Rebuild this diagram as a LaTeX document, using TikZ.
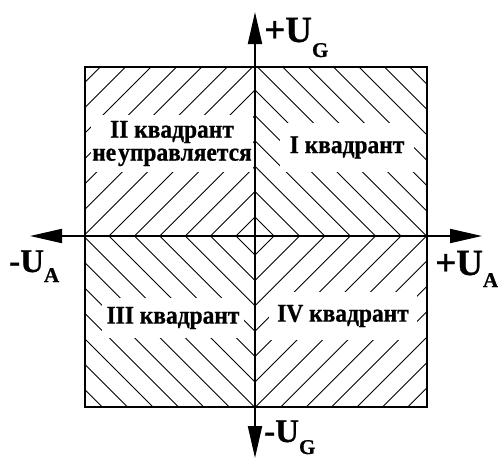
\documentclass[tikz,border=0pt]{standalone}
\usepackage{fontspec}
\setmainfont{Liberation Serif}
\newfontfamily\qfont[FakeStretch=0.92,FakeBold=0.8]{Liberation Serif}
\newfontfamily\lfont[FakeBold=0.8]{Liberation Serif}
\usetikzlibrary{arrows.meta,calc}
\tikzset{
  hatch/.style={line width=0.9pt},
  axis/.style={line width=2pt,-{Triangle[length=32pt,width=14pt]}},
  frame/.style={line width=2pt},
  quad/.style={fill=white,inner sep=0pt,align=center,
    font=\qfont\bfseries\fontsize{25.5}{23}\selectfont},
  labp/.style={inner sep=0pt,anchor=base west,font=\lfont\bfseries\fontsize{37}{37}\selectfont},
  labm/.style={inner sep=0pt,anchor=base west,font=\lfont\bfseries\fontsize{33}{33}\selectfont},
}
\newcommand{\subG}[2]{\raisebox{#1}{\fontsize{21}{21}\selectfont #2}}
\begin{document}
\begin{tikzpicture}[x=1pt,y=-1pt]
\useasboundingbox (0,0) rectangle (498,458);
\coordinate (O) at (255,236);
% hatching: concentric diamonds clipped to the square
\begin{scope}
  \clip (85,67) rectangle (427,407);
  \foreach \k in {0,...,13}{
    \pgfmathsetmacro{\r}{19+25.4*\k}
    \draw[hatch] ($(O)+(\r,0)$) -- ($(O)+(0,-\r)$) -- ($(O)+(-\r,0)$) -- ($(O)+(0,\r)$) -- cycle;
  }
\end{scope}
% white label areas
\node[quad,minimum width=162pt,minimum height=57pt] (q2) at (172,143.5) {II квадрант\\не\hspace{0.08em}управляется};
\node[quad,minimum width=134pt,minimum height=49pt] (q1) at (347,147.5) {I квадрант};
\node[quad,minimum width=142pt,minimum height=40pt] (q3) at (173,318) {III квадрант};
\node[quad,minimum width=148pt,minimum height=48pt] (q4) at (343,316) {IV квадрант};
% frame
\draw[frame] (85,67) rectangle (427,407);
% axes
\coordinate (top) at (255,12);
\coordinate (bot) at (255,458);
\coordinate (lft) at (30,236);
\coordinate (rgt) at (482,236);
\draw[axis] (O) -- (top);
\draw[axis] (O) -- (bot);
\draw[axis] (O) -- (lft);
\draw[axis] (O) -- (rgt);
% axis labels
\node[labp] (ug) at (264,42) {+U\subG{-15pt}{G}};
\node[labp] (ua) at (435,275) {+U\subG{-12pt}{A}};
\node[labm] (uam) at (9,272) {-U\subG{-10pt}{A}};
\node[labm] (ugm) at (264,442) {-U\subG{-12pt}{G}};
\end{tikzpicture}
\end{document}
